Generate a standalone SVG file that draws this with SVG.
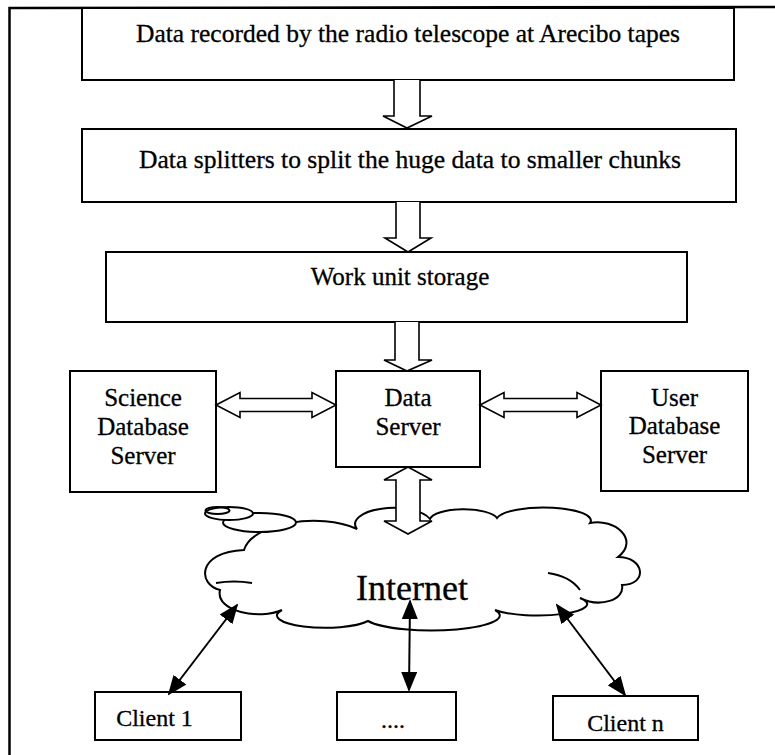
<svg xmlns="http://www.w3.org/2000/svg" width="775" height="755" viewBox="0 0 775 755">
  <style>
    .box { fill: #fff; stroke: #000; stroke-width: 2; }
    .blk { fill: #fff; stroke: #000; stroke-width: 1.6; stroke-linejoin: miter; }
    .frame { fill: none; stroke: #000; stroke-width: 2.5; }
    .cloud { fill: #fff; stroke: #000; stroke-width: 2; }
    .inner { fill: none; stroke: #000; stroke-width: 2; }
    .link { fill: none; stroke: #000; stroke-width: 2; }
    text { font-family: "Liberation Serif", "Times New Roman", serif; font-size: 25px; fill: #000; stroke: #000; stroke-width: 0.3; text-anchor: middle; }
    .small { font-size: 24px; }
    .big { font-size: 36px; }
  </style>
  <defs>
    <marker id="tip" viewBox="0 0 20 16" refX="18" refY="8" markerWidth="20" markerHeight="16" markerUnits="userSpaceOnUse" orient="auto-start-reverse">
      <path d="M0,0 L20,8 L0,16 Z" fill="#000"/>
    </marker>
  </defs>
  <rect width="775" height="755" fill="#fff"/>

  <!-- page frame -->
  <g id="frame">
    <path class="frame" d="M9.5,755 L9.5,8 L775,7"/>
  </g>

  <!-- pipeline boxes -->
  <g id="tapes">
    <rect class="box" x="82" y="8" width="652" height="72"/>
    <text x="408" y="42" textLength="544" lengthAdjust="spacingAndGlyphs">Data recorded by the radio telescope at Arecibo tapes</text>
  </g>
  <g id="splitters">
    <rect class="box" x="82" y="129" width="654" height="73"/>
    <text x="410" y="168" textLength="542" lengthAdjust="spacingAndGlyphs">Data splitters to split the huge data to smaller chunks</text>
  </g>
  <g id="storage">
    <rect class="box" x="106" y="252" width="581" height="70"/>
    <text x="400" y="285">Work unit storage</text>
  </g>

  <!-- server row -->
  <g id="science-db">
    <rect class="box" x="70" y="371" width="146" height="121"/>
    <text x="143" y="406">Science</text>
    <text x="143" y="435">Database</text>
    <text x="143" y="464">Server</text>
  </g>
  <g id="data-server">
    <rect class="box" x="336" y="371" width="144" height="96"/>
    <text x="408" y="406">Data</text>
    <text x="408" y="435">Server</text>
  </g>
  <g id="user-db">
    <rect class="box" x="601" y="371" width="147" height="120"/>
    <text x="674.5" y="406">User</text>
    <text x="674.5" y="434">Database</text>
    <text x="674.5" y="463">Server</text>
  </g>

  <!-- internet cloud with callout bubbles -->
  <g id="internet">
    <path class="cloud" d="M244,550 C252,523 320,512 357,529
      A38 16 0 0 1 430,519
      A34 11 0 0 1 497,518
      A47 13 0 0 1 590,523
      C615,518 640,540 618,557
      C645,557 648,585 622,585
      C625,600 600,608 580,598
      A43 10 0 0 1 495,610
      A64 14 0 0 1 368,621
      A43 11 0 0 1 282,610
      C260,620 215,612 220,590
      C198,585 196,552 244,550 Z"/>
    <path class="inner" d="M216,583 Q234,580 252,583"/>
    <path class="inner" d="M548,573 Q570,576 580,590"/>
    <ellipse class="cloud" cx="259.5" cy="522.5" rx="36.5" ry="9.5"/>
    <ellipse class="cloud" cx="229" cy="513.5" rx="24" ry="6.5"/>
    <ellipse class="inner" cx="217.5" cy="510.5" rx="12" ry="3.5"/>
    <text class="big" x="412" y="600">Internet</text>
  </g>

  <!-- client row -->
  <g id="client-1">
    <rect class="box" x="95" y="692" width="146" height="48"/>
    <text class="small" x="154.5" y="726">Client 1</text>
  </g>
  <g id="client-more">
    <rect class="box" x="337" y="692" width="119" height="48"/>
    <text class="small" x="393" y="728">....</text>
  </g>
  <g id="client-n">
    <rect class="box" x="553" y="696" width="145" height="44"/>
    <text class="small" x="625.5" y="731">Client n</text>
  </g>

  <!-- connectors -->
  <g id="connectors">
    <path class="blk" d="M394,80 V116 H383 L407,128 L432,116 H420 V80"/>
    <path class="blk" d="M396,202 V238 H385 L408,252 L431,238 H420 V202"/>
    <path class="blk" d="M395,322 V360 H384 L407,371 L432,360 H419 V322"/>
    <path class="blk" d="M216,405 L240,392.5 V398.5 H312 V392.5 L336,405 L312,417.5 V411.5 H240 V417.5 Z"/>
    <path class="blk" d="M480,405 L504,392.5 V398.5 H577 V392.5 L601,405 L577,417.5 V411.5 H504 V417.5 Z"/>
    <path class="blk" d="M408,467 L432,480 H420 V521 H432 L408,534 L384,521 H396 V480 H384 Z"/>
    <line class="link" x1="237" y1="605" x2="169" y2="694" marker-start="url(#tip)" marker-end="url(#tip)"/>
    <line class="link" x1="410" y1="601" x2="409" y2="690" marker-start="url(#tip)" marker-end="url(#tip)"/>
    <line class="link" x1="557" y1="605" x2="625" y2="695" marker-start="url(#tip)" marker-end="url(#tip)"/>
  </g>
</svg>
